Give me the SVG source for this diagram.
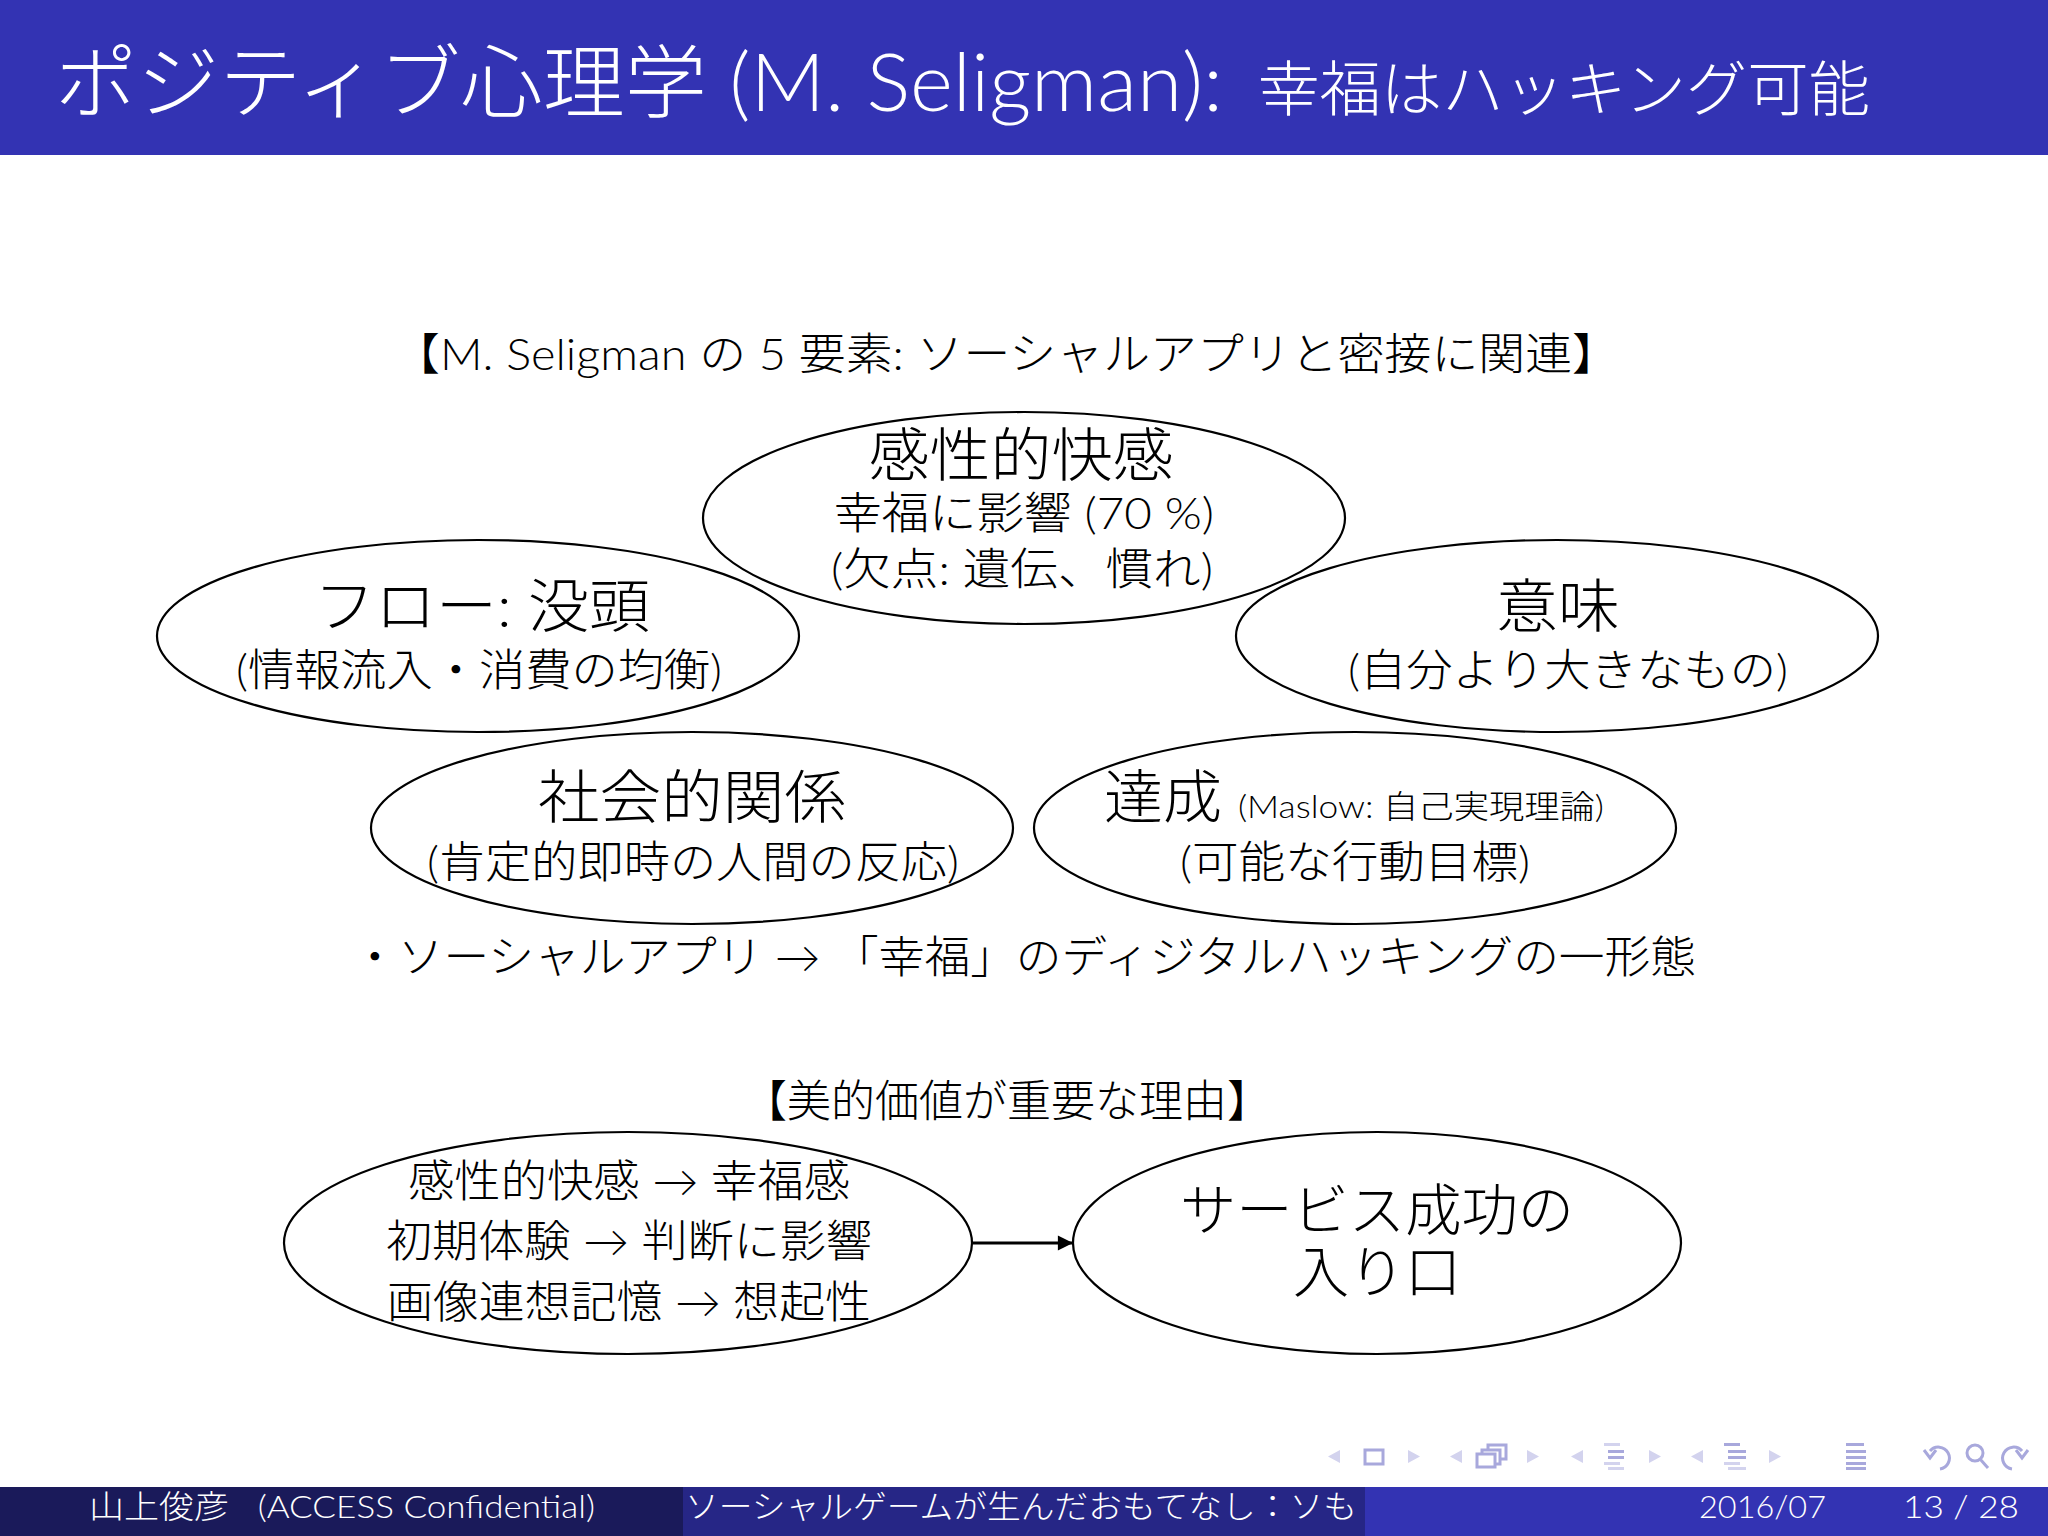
<svg xmlns="http://www.w3.org/2000/svg" width="2048" height="1536" viewBox="0 0 2048 1536">
<style>
.t{font-family:Lato,"Noto Sans CJK JP",sans-serif;fill:#000;font-weight:300}
.r{font-family:Lato,sans-serif}
.w{fill:#fff}
.m{text-anchor:middle}
.big{font-size:58px}
.mid{font-size:44px}
.sm{font-size:32px}
.ft{font-size:32px}
.el{fill:none;stroke:#000;stroke-width:2.2}
.tri{fill:#d3d3ee}
.ico{fill:none;stroke:#a8a8dc;stroke-width:3}
.bar{fill:#a8a8dc}
.barl{fill:#d3d3ee}
</style>
<defs>
<marker id="ah" viewBox="0 0 10 10" refX="10" refY="5" markerWidth="7" markerHeight="5.4" markerUnits="strokeWidth" orient="auto">
<path d="M0,0 L10,5 L0,10 z" fill="#000"/>
</marker>
<clipPath id="midclip"><rect x="683" y="1487" width="682" height="49"/></clipPath>
</defs>
<rect width="2048" height="1536" fill="#fff"/>
<g id="header">
<rect x="0" y="0" width="2048" height="155" fill="#3333b3"/>
<text class="t w" x="55" y="111" font-size="80" textLength="1168" lengthAdjust="spacingAndGlyphs">ポジティブ心理学 <tspan class="r">(M. Seligman):</tspan></text>
<text class="t w" x="1258" y="111" font-size="60" textLength="612" lengthAdjust="spacingAndGlyphs">幸福はハッキング可能</text>
</g>
<text id="subtitle" class="t mid m" x="1006" y="370" textLength="1226" lengthAdjust="spacingAndGlyphs">【<tspan class="r">M. Seligman</tspan> の <tspan class="r">5</tspan> 要素<tspan class="r">:</tspan> ソーシャルアプリと密接に関連】</text>
<g id="node-kansei">
<ellipse class="el" cx="1024" cy="518" rx="321" ry="106"/>
<text class="t big m" x="1021" y="476" textLength="305" lengthAdjust="spacingAndGlyphs">感性的快感</text>
<text class="t mid m" x="1024" y="529" textLength="380" lengthAdjust="spacingAndGlyphs">幸福に影響 <tspan class="r">(70 %)</tspan></text>
<text class="t mid m" x="1022" y="585" textLength="382" lengthAdjust="spacingAndGlyphs"><tspan class="r">(</tspan>欠点<tspan class="r">:</tspan> 遺伝、慣れ<tspan class="r">)</tspan></text>
</g>
<g id="node-flow">
<ellipse class="el" cx="478" cy="636" rx="321" ry="96"/>
<text class="t big m" x="482" y="627" textLength="336" lengthAdjust="spacingAndGlyphs">フロー<tspan class="r">:</tspan> 没頭</text>
<text class="t mid m" x="479" y="686" textLength="486" lengthAdjust="spacingAndGlyphs"><tspan class="r">(</tspan>情報流入・消費の均衡<tspan class="r">)</tspan></text>
</g>
<g id="node-imi">
<ellipse class="el" cx="1557" cy="636" rx="321" ry="96"/>
<text class="t big m" x="1558" y="627" textLength="124" lengthAdjust="spacingAndGlyphs">意味</text>
<text class="t mid m" x="1568" y="686" textLength="440" lengthAdjust="spacingAndGlyphs"><tspan class="r">(</tspan>自分より大きなもの<tspan class="r">)</tspan></text>
</g>
<g id="node-social">
<ellipse class="el" cx="692" cy="828" rx="321" ry="96"/>
<text class="t big m" x="692" y="818" textLength="308" lengthAdjust="spacingAndGlyphs">社会的関係</text>
<text class="t mid m" x="693" y="878" textLength="532" lengthAdjust="spacingAndGlyphs"><tspan class="r">(</tspan>肯定的即時の人間の反応<tspan class="r">)</tspan></text>
</g>
<g id="node-tassei">
<ellipse class="el" cx="1355" cy="828" rx="321" ry="96"/>
<text class="t big" x="1104" y="818" textLength="118" lengthAdjust="spacingAndGlyphs">達成</text>
<text class="t sm" x="1238" y="818" textLength="366" lengthAdjust="spacingAndGlyphs"><tspan class="r">(Maslow:</tspan> 自己実現理論<tspan class="r">)</tspan></text>
<text class="t mid m" x="1355" y="878" textLength="350" lengthAdjust="spacingAndGlyphs"><tspan class="r">(</tspan>可能な行動目標<tspan class="r">)</tspan></text>
</g>
<text id="note" class="t mid" x="352" y="973" textLength="1344" lengthAdjust="spacingAndGlyphs">・ソーシャルアプリ <tspan class="r">→</tspan> 「幸福」のディジタルハッキングの一形態</text>
<text id="subtitle2" class="t mid m" x="1007" y="1117" textLength="528" lengthAdjust="spacingAndGlyphs">【美的価値が重要な理由】</text>
<g id="node-reasons">
<ellipse class="el" cx="628" cy="1243" rx="344" ry="111"/>
<text class="t mid m" x="629" y="1197" textLength="442" lengthAdjust="spacingAndGlyphs">感性的快感 <tspan class="r">→</tspan> 幸福感</text>
<text class="t mid m" x="629" y="1257" textLength="486" lengthAdjust="spacingAndGlyphs">初期体験 <tspan class="r">→</tspan> 判断に影響</text>
<text class="t mid m" x="629" y="1318" textLength="484" lengthAdjust="spacingAndGlyphs">画像連想記憶 <tspan class="r">→</tspan> 想起性</text>
</g>
<g id="node-entry">
<ellipse class="el" cx="1377" cy="1243" rx="304" ry="111"/>
<text class="t m" font-size="56" x="1377" y="1230" textLength="394" lengthAdjust="spacingAndGlyphs">サービス成功の</text>
<text class="t m" font-size="56" x="1377" y="1292" textLength="168" lengthAdjust="spacingAndGlyphs">入り口</text>
</g>
<g id="connectors">
<line x1="973" y1="1243" x2="1073" y2="1243" stroke="#000" stroke-width="2.8" marker-end="url(#ah)"/>
</g>
<g id="nav">
<path class="tri" d="M1340,1450 L1328,1456.5 L1340,1463 z"/>
<rect class="ico" x="1365" y="1450" width="18" height="14"/>
<path class="tri" d="M1408,1450 L1420,1456.5 L1408,1463 z"/>
<path class="tri" d="M1462,1450 L1450,1456.5 L1462,1463 z"/>
<rect class="ico" x="1488" y="1445" width="18" height="14"/>
<rect class="ico" x="1482" y="1450" width="18" height="14" style="fill:#fff"/>
<rect class="ico" x="1477" y="1454" width="18" height="13" style="fill:#fff"/>
<path class="tri" d="M1527,1450 L1539,1456.5 L1527,1463 z"/>
<path class="tri" d="M1583,1450 L1571,1456.5 L1583,1463 z"/>
<rect class="barl" x="1604" y="1443" width="16" height="3"/>
<rect class="bar" x="1608" y="1450" width="16" height="3"/>
<rect class="bar" x="1608" y="1456" width="16" height="3"/>
<rect class="barl" x="1604" y="1462" width="16" height="3"/>
<rect class="barl" x="1608" y="1467" width="16" height="3"/>
<path class="tri" d="M1649,1450 L1661,1456.5 L1649,1463 z"/>
<path class="tri" d="M1703,1450 L1691,1456.5 L1703,1463 z"/>
<rect class="bar" x="1724" y="1443" width="16" height="3"/>
<rect class="bar" x="1728" y="1450" width="18" height="3"/>
<rect class="bar" x="1728" y="1456" width="18" height="3"/>
<rect class="barl" x="1724" y="1462" width="16" height="3"/>
<rect class="barl" x="1728" y="1467" width="18" height="3"/>
<path class="tri" d="M1769,1450 L1781,1456.5 L1769,1463 z"/>
<rect class="bar" x="1846" y="1443" width="18" height="3"/>
<rect class="bar" x="1846" y="1450" width="20" height="3"/>
<rect class="bar" x="1846" y="1456" width="20" height="3"/>
<rect class="bar" x="1846" y="1462" width="20" height="3"/>
<rect class="bar" x="1846" y="1467" width="20" height="3"/>
<path class="ico" d="M1930,1451 A11,11 0 1 1 1940,1469"/>
<path class="ico" d="M1924,1450 L1930,1458 L1936,1450"/>
<circle class="ico" cx="1975" cy="1453" r="8"/>
<path class="ico" d="M1980,1459 L1988,1468"/>
<path class="ico" d="M2022,1451 A11,11 0 1 0 2012,1469"/>
<path class="ico" d="M2016,1450 L2022,1458 L2028,1450"/>
</g>
<g id="footer">
<rect x="0" y="1487" width="683" height="49" fill="#1a1a5a"/>
<rect x="683" y="1487" width="682" height="49" fill="#262686"/>
<rect x="1365" y="1487" width="683" height="49" fill="#3333b3"/>
<text class="t w ft" x="89" y="1518" textLength="506" lengthAdjust="spacingAndGlyphs">山上俊彦<tspan class="r" dx="26">(ACCESS Confidential)</tspan></text>
<g clip-path="url(#midclip)">
<text class="t w ft" x="685" y="1518" textLength="672" lengthAdjust="spacingAndGlyphs">ソーシャルゲームが生んだおもてなし：ソも</text>
</g>
<text class="t w ft" x="1699" y="1518" textLength="127" lengthAdjust="spacingAndGlyphs"><tspan class="r">2016/07</tspan></text>
<text class="t w ft" x="1903" y="1518" textLength="116" lengthAdjust="spacingAndGlyphs"><tspan class="r">13 / 28</tspan></text>
</g>
</svg>
